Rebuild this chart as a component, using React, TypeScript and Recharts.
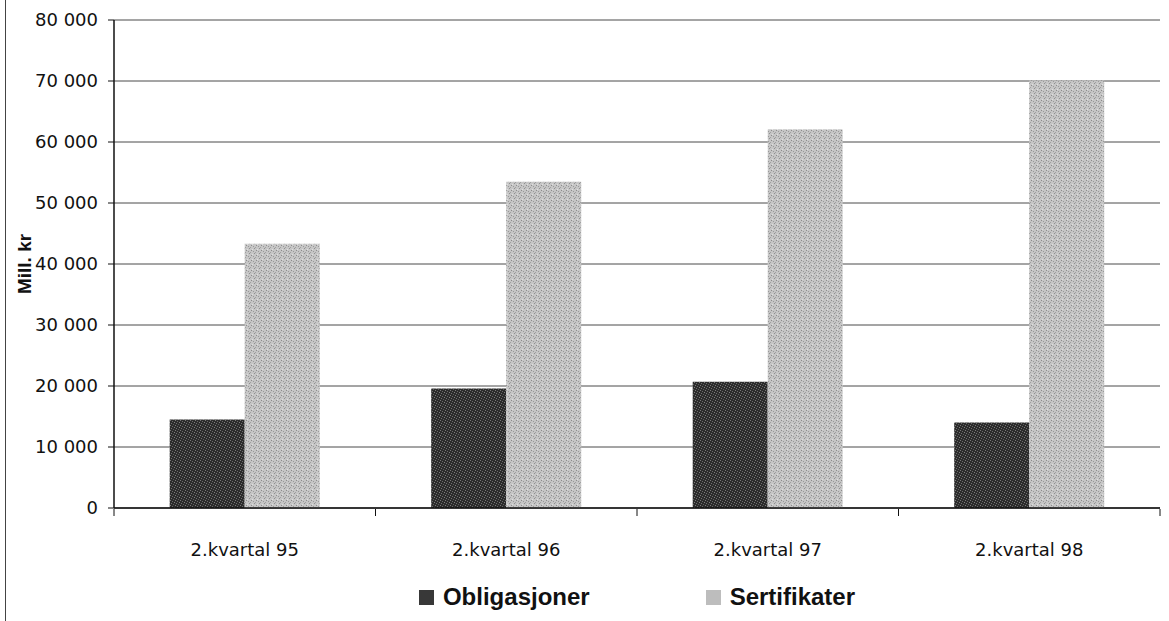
import { BarChart, Bar, XAxis, YAxis, CartesianGrid, Legend } from "recharts";

const quarters = ["2.kvartal 95", "2.kvartal 96", "2.kvartal 97", "2.kvartal 98"];
const obligasjoner = [14500, 19600, 20700, 14000];
const sertifikater = [43300, 53500, 62100, 70100];
const yTicks = [0, 10000, 20000, 30000, 40000, 50000, 60000, 70000, 80000];
const edgeTicks = [0, 1, 2, 3, 4];

const data = quarters.map((q, i) => ({
  name: q,
  pos: i + 0.5,
  Obligasjoner: obligasjoner[i],
  Sertifikater: sertifikater[i],
}));

const DARK = "#383838";
const LIGHT = "#bdbdbd";
const tickFont = { fontFamily: "DejaVu Sans", fontSize: 18, fill: "#111" };

const fmt = (n: number) => String(n).replace(/\B(?=(\d{3})+(?!\d))/g, " ");

function LegendBox({ payload }: any) {
  return (
    <div
      style={{
        display: "flex",
        justifyContent: "center",
        paddingTop: 6,
        height: 48,
        fontFamily: "Liberation Sans, Arial, sans-serif",
        fontWeight: "bold",
        fontSize: 24,
        color: "#111",
      }}
    >
      {(payload || []).map((p: any, i: number) => (
        <div
          key={p.value}
          style={{ display: "flex", alignItems: "center", marginRight: i === 0 ? 116 : 0, lineHeight: "28px" }}
        >
          <span style={{ width: 15, height: 15, background: i === 0 ? DARK : LIGHT, marginRight: 9, display: "inline-block" }} />
          {p.value}
        </div>
      ))}
    </div>
  );
}

function YLabel({ viewBox }: any) {
  const x = viewBox.x + 24;
  const y = viewBox.y + viewBox.height / 2;
  return (
    <text
      x={x}
      y={y}
      transform={`rotate(-90 ${x} ${y})`}
      textAnchor="middle"
      dominantBaseline="central"
      style={{ fontFamily: "Liberation Sans, Arial, sans-serif", fontWeight: "bold", fontSize: 19, fill: "#111" }}
    >
      Mill. kr
    </text>
  );
}

export default function App() {
  return (
    <div style={{ position: "absolute", left: 0, top: 0, width: 1169, height: 621, background: "#fff" }}>
      <div style={{ position: "absolute", left: 5, top: 0, width: 0, height: 621, borderLeft: "1.5px solid #444" }} />
      <BarChart
        width={1169}
        height={621}
        data={data}
        margin={{ top: 20, right: 9, left: 0, bottom: 0 }}
        barGap={0}
        barCategoryGap="21.3%"
      >
        <defs>
          <pattern id="darkTex" width="5" height="5" patternUnits="userSpaceOnUse">
            <rect width="5" height="5" fill="#2c2c2c" />
            <rect x="0" y="0" width="1" height="1" fill="#7a7a7a" />
            <rect x="2" y="1" width="1" height="1" fill="#6a6a6a" />
            <rect x="4" y="2" width="1" height="1" fill="#808080" />
            <rect x="1" y="3" width="1" height="1" fill="#707070" />
            <rect x="3" y="4" width="1" height="1" fill="#5e5e5e" />
          </pattern>
          <pattern id="lightTex" width="5" height="5" patternUnits="userSpaceOnUse">
            <rect width="5" height="5" fill="#c6c6c6" />
            <rect x="1" y="0" width="1" height="1" fill="#8c8c8c" />
            <rect x="3" y="1" width="1" height="1" fill="#9a9a9a" />
            <rect x="0" y="2" width="1" height="1" fill="#a0a0a0" />
            <rect x="4" y="3" width="1" height="1" fill="#909090" />
            <rect x="2" y="4" width="1" height="1" fill="#e0e0e0" />
          </pattern>
        </defs>
        <CartesianGrid xAxisId="cat" vertical={false} stroke="#4a4a4a" strokeWidth={1} />
        <XAxis
          xAxisId="cat"
          dataKey="name"
          tickLine={false}
          tickSize={0}
          tickMargin={35}
          axisLine={{ stroke: "#111", strokeWidth: 1.5 }}
          tick={tickFont}
          height={1}
          interval={0}
        />
        <XAxis
          xAxisId="edge"
          dataKey="pos"
          type="number"
          domain={[0, 4]}
          allowDataOverflow
          ticks={edgeTicks}
          interval={0}
          tickFormatter={() => ""}
          axisLine={false}
          tickSize={7}
          tickLine={{ stroke: "#111" }}
          height={58}
        />
        <YAxis
          width={114}
          domain={[0, 80000]}
          ticks={yTicks}
          tickFormatter={fmt}
          tickSize={6}
          tickMargin={10}
          tick={tickFont}
          axisLine={{ stroke: "#111", strokeWidth: 1.5 }}
          tickLine={{ stroke: "#111" }}
          label={<YLabel />}
        />
        <Legend
          verticalAlign="bottom"
          content={<LegendBox />}
          wrapperStyle={{ left: 114, width: 1046 }}
        />
        <Bar xAxisId="cat" dataKey="Obligasjoner" fill="url(#darkTex)" isAnimationActive={false} />
        <Bar xAxisId="cat" dataKey="Sertifikater" fill="url(#lightTex)" isAnimationActive={false} />
      </BarChart>
    </div>
  );
}
